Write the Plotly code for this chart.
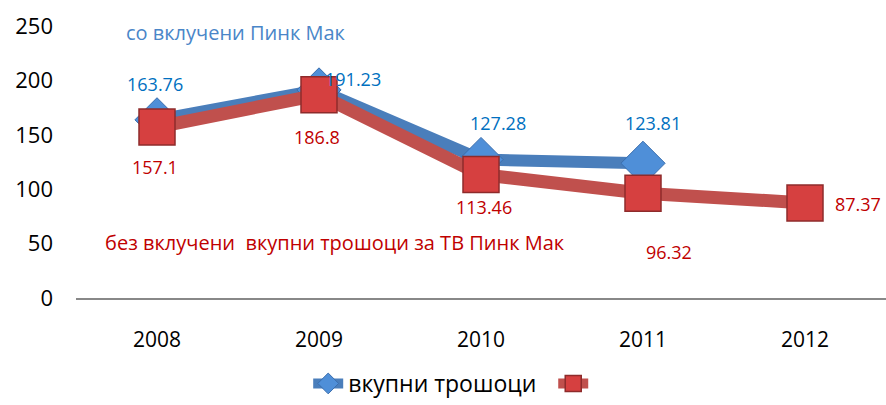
import plotly.graph_objects as go

years = ["2008", "2009", "2010", "2011", "2012"]
total_costs = [163.76, 191.23, 127.28, 123.81, None]
without_pink = [157.1, 186.8, 113.46, 96.32, 87.37]
yticks = [0, 50, 100, 150, 200, 250]

blue_label_shift = [(-2, 36), (34, 11), (17, 37), (10, 40), None]
red_label_shift = [(-2, -40), (-2, -42), (3, -32), (26, -59), (53, -1)]

BLUE_LINE = "#4A7EBB"
RED_LINE = "#C0504D"
BLUE_TXT = "#0070C0"
RED_TXT = "#C00000"
FONT = "Open Sans, Liberation Sans, sans-serif"

xpos = list(range(len(years)))

fig = go.Figure()
fig.add_trace(go.Scatter(
    x=xpos, y=total_costs, mode="lines+markers",
    name="вкупни трошоци\u00a0\u00a0",
    line=dict(color=BLUE_LINE, width=12),
    marker=dict(symbol="diamond", size=34, color="#4F8FD8",
                line=dict(color="#3A6EAE", width=1)),
))
fig.add_trace(go.Scatter(
    x=xpos, y=without_pink, mode="lines+markers", name=" ",
    line=dict(color=RED_LINE, width=13),
    marker=dict(symbol="square", size=36, color="#D64040",
                line=dict(color="#8E2B2B", width=1.5)),
))

annotations = []
for xi, v, sh in zip(xpos, total_costs, blue_label_shift):
    if v is None:
        continue
    annotations.append(dict(x=xi, y=v, xref="x", yref="y", text=f"{v:g}",
                            showarrow=False, xshift=sh[0], yshift=sh[1],
                            xanchor="center", yanchor="middle",
                            font=dict(family=FONT, size=18, color=BLUE_TXT)))
for xi, v, sh in zip(xpos, without_pink, red_label_shift):
    annotations.append(dict(x=xi, y=v, xref="x", yref="y", text=f"{v:g}",
                            showarrow=False, xshift=sh[0], yshift=sh[1],
                            xanchor="center", yanchor="middle",
                            font=dict(family=FONT, size=18, color=RED_TXT)))
annotations.append(dict(x=0.198, y=0.975, xref="paper", yref="paper",
                        xanchor="center", yanchor="middle",
                        text="со вклучени Пинк Мак", showarrow=False,
                        font=dict(family=FONT, size=20, color="#4A86C8")))
annotations.append(dict(x=0.32, y=0.204, xref="paper", yref="paper",
                        xanchor="center", yanchor="middle",
                        text="без вклучени\u00a0 вкупни трошоци за ТВ Пинк Мак",
                        showarrow=False,
                        font=dict(family=FONT, size=20, color=RED_TXT)))

fig.update_layout(
    width=886, height=405,
    margin=dict(l=76, r=0, t=26, b=104),
    plot_bgcolor="white", paper_bgcolor="white",
    font=dict(family=FONT, size=20, color="black"),
    annotations=annotations,
    showlegend=True,
    legend=dict(orientation="h", x=0.47, xanchor="center", y=-0.316, yanchor="middle",
                font=dict(family=FONT, size=23, color="black")),
    xaxis=dict(range=[-0.5, len(years) - 0.5], tickvals=xpos, ticktext=years,
               showgrid=False, showline=True, linecolor="#888888",
               linewidth=2, ticks="", ticklabelstandoff=22,
               tickfont=dict(size=21), zeroline=False),
    yaxis=dict(range=[0, 250], tickvals=yticks, showgrid=False, showline=False,
               zeroline=False, ticks="", ticklabelstandoff=22,
               tickfont=dict(size=22)),
)

fig.write_html("out.html", config={"displayModeBar": False},
               post_script="document.body.style.margin='0';")
